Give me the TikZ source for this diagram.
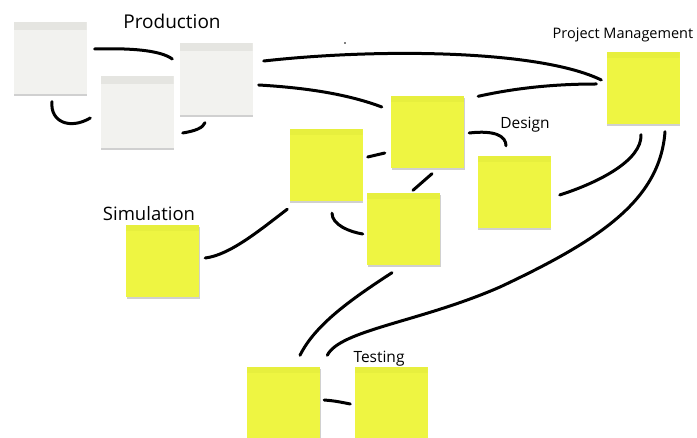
\documentclass[tikz,border=0pt]{standalone}
\usepackage{fontspec}
\setmainfont{Open Sans}
\usetikzlibrary{shadows,calc}
\definecolor{ynote}{RGB}{238,245,66}
\definecolor{yband}{RGB}{231,239,62}
\definecolor{gnote}{RGB}{242,242,239}
\definecolor{gband}{RGB}{229,229,225}
\tikzset{
  note/.style={rectangle, minimum width=73pt, minimum height=72pt, inner sep=0pt, draw=none,
    drop shadow={shadow xshift=0.5pt, shadow yshift=-1.6pt, opacity=0.3, fill=black!60}},
  ynotebox/.style={note, fill=ynote, path picture={\fill[yband] (path picture bounding box.north west) rectangle ([yshift=-6pt]path picture bounding box.north east);}},
  gnotebox/.style={note, fill=gnote, path picture={\fill[gband] (path picture bounding box.north west) rectangle ([yshift=-8pt]path picture bounding box.north east);}},
  link/.style={line width=3pt, line cap=round, draw=black},
  lbl/.style={inner sep=0pt, text=black}
}
\begin{document}
\begin{tikzpicture}[x=1pt,y=-1pt]
\useasboundingbox (0,0) rectangle (697,438);
\fill[white] (0,0) rectangle (697,438);

% grey notes
\node[gnotebox] (G1) at (50,58.5) {};
\node[gnotebox] (G2) at (137,112) {};
\node[gnotebox] (G3) at (216,79.5) {};
% yellow notes
\node[ynotebox] (PM) at (643,88.5) {};
\node[ynotebox] (YC) at (427.5,132.5) {};
\node[ynotebox] (YL) at (326,165) {};
\node[ynotebox] (YLow) at (403.5,229.5) {};
\node[ynotebox] (Sim) at (162.5,261) {};
\node[ynotebox] (Des) at (514,192) {};
\node[ynotebox] (T1) at (283.5,403.5) {};
\node[ynotebox] (T2) at (391,403.5) {};

% labels
\node[lbl, font=\fontsize{19}{19}\selectfont] (lProd) at (172,21) {Production};
\node[lbl, font=\fontsize{14.5}{14.5}\selectfont] (lPM) at (623,35) {Project Management};
\node[lbl, font=\fontsize{15.5}{15.5}\selectfont] (lDes) at (525,125) {Design};
\node[lbl, font=\fontsize{18.5}{18.5}\selectfont] (lSim) at (149,214) {Simulation};
\node[lbl, font=\fontsize{15.5}{15.5}\selectfont] (lTest) at (379,359) {Testing};

% stray dot
\fill (345,43) circle (0.8);

% connectors
\draw[link] ($(G1.east)+(8,-9.5)$) .. controls (130,48) and (160,50) .. ($(G3.west)+(-7,-20.5)$);
\draw[link] ($(G1.south)+(2,7)$) .. controls (50,122) and (70,130) .. ($(G2.west)+(-10,6)$);
\draw[link] ($(G2.east)+(9,21)$) .. controls (195,131) and (203,128) .. ($(G3.south)+(-11,7)$);
\draw[link] ($(G3.east)+(11,-18.5)$) .. controls (380,48) and (540,50) .. ($(PM.west)+(-5,-8.5)$);
\draw[link] ($(G3.east)+(6,5.5)$) .. controls (310,88) and (350,95) .. ($(YC.west)+(-9,-25.5)$);
\draw[link] ($(YC.north east)+(14,0)$) .. controls (520,87) and (560,84) .. ($(PM.west)+(-10,-4.5)$);
\draw[link] ($(YC.east)+(5,0.5)$) .. controls (495,130) and (506,136) .. ($(Des.north)+(-8,-10)$);
\draw[link] ($(YL.east)+(5,-8)$) -- ($(YC.west)+(-6,20.5)$);
\draw[link] ($(YC.south)+(4.5,5)$) -- ($(YLow.north)+(9.5,-3)$);
\draw[link] ($(YL.south)+(6,12)$) .. controls (332,225) and (350,232) .. ($(YLow.west)+(-4,4.5)$);
\draw[link] ($(Sim.east)+(6,-3)$) .. controls (230,255) and (260,230) .. ($(YL.south west)+(-2,8)$);
\draw[link] ($(Des.east)+(9,3)$) .. controls (600,182) and (642,160) .. ($(PM.south)+(-2,10)$);
\draw[link] ($(PM.south)+(22,7)$) .. controls (660,200) and (600,240) .. (500,287)
   .. controls (420,322) and (340,330) .. ($(T2.north west)+(-27,-12)$);
\draw[link] ($(YLow.south)+(-11.5,7)$) .. controls (350,300) and (315,325) .. ($(T1.north)+(16.5,-12)$);
\draw[link] ($(T1.east)+(4,-3.5)$) .. controls (335,401) .. ($(T2.west)+(-4,0.5)$);
\end{tikzpicture}
\end{document}
